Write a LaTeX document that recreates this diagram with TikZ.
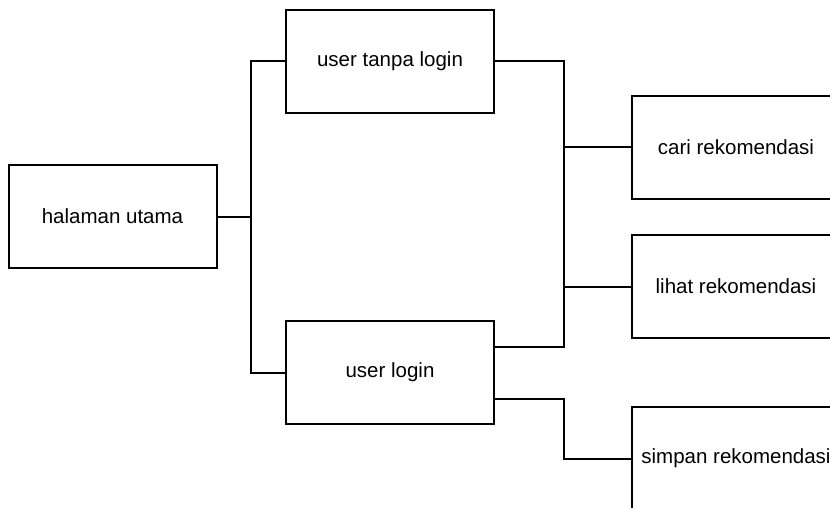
\documentclass[tikz,border=0pt]{standalone}
\usepackage{fontspec}
\setmainfont{Liberation Sans}
\begin{document}
\begin{tikzpicture}[x=1pt,y=-1pt,
  box/.style={draw,line width=2pt,minimum width=208pt,minimum height=103pt,inner sep=0pt,font=\fontsize{20.5}{24}\selectfont},
  link/.style={line width=2pt}]
\useasboundingbox (0,0) rectangle (830,508);
\begin{scope}
\clip (0,0) rectangle (830,508);
\node[box] (home) at (112.5,216.5) {halaman utama};
\node[box] (guest) at (390,61.5) {user tanpa login};
\node[box] (member) at (390,372.5) {user login};
\node[box] (search) at (736,147.5) {cari rekomendasi};
\node[box] (view) at (736,286.5) {lihat rekomendasi};
\node[box] (save) at (736,458.5) {simpan rekomendasi};

\coordinate (j1) at (251,0);
\coordinate (j2) at (564,0);
% upper and lower exits on the right side of the login box
\coordinate (mUp) at ([yshift=26pt]member.east);
\coordinate (mDown) at ([yshift=-26pt]member.east);

\draw[link] (home.east) -- (home.east -| j1) |- (guest.west);
\draw[link] (home.east -| j1) |- (member.west);
\draw[link] (guest.east) -- (guest.east -| j2) |- (mUp);
\draw[link] (search.west) -- (search.west -| j2);
\draw[link] (view.west) -- (view.west -| j2);
\draw[link] (mDown) -| (j2 |- save.west) -- (save.west);
\end{scope}
\end{tikzpicture}
\end{document}
